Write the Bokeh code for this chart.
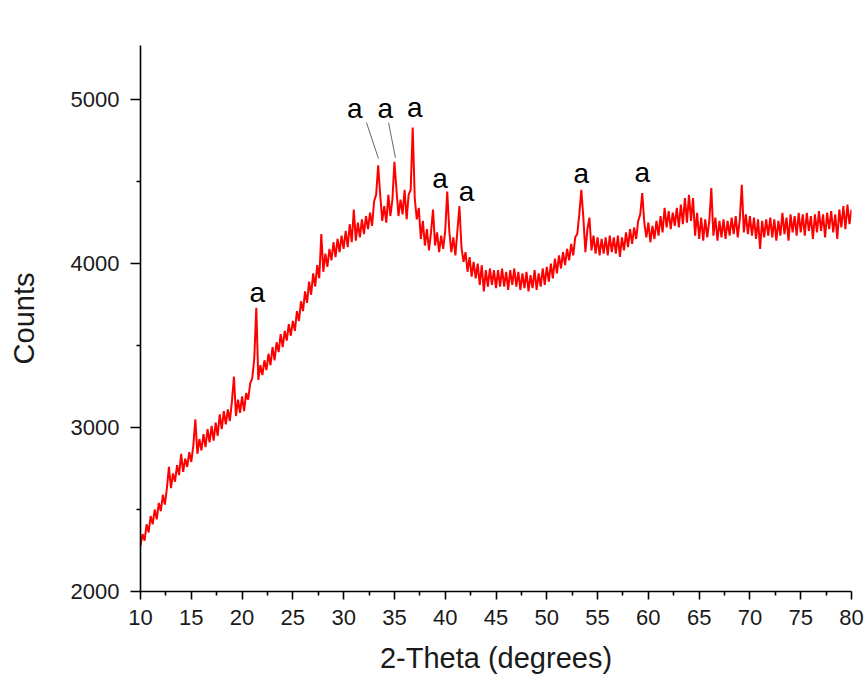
import numpy as np
from bokeh.plotting import figure
from bokeh.models import FixedTicker, Range1d, ColumnDataSource
from bokeh.core.properties import value
from bokeh.embed import file_html
from bokeh.resources import INLINE

# 2-theta sampling grid (degrees), step 0.2 from 10 to 80
two_theta = np.round(np.arange(10.0, 80.0001, 0.2), 1)

counts = [
    # 10.0 - 14.8
    2280, 2350, 2310, 2410, 2360, 2460, 2410, 2500, 2440, 2540,
    2490, 2590, 2530, 2630, 2760, 2630, 2720, 2670, 2770, 2710,
    2840, 2730, 2810, 2760, 2850,
    # 15.0 - 19.8
    2790, 2890, 3050, 2840, 2930, 2860, 2960, 2880, 2990, 2910,
    3010, 2920, 3030, 2950, 3080, 2990, 3100, 3020, 3110, 3040,
    3160, 3310, 3070, 3170, 3090,
    # 20.0 - 24.8
    3190, 3100, 3210, 3170, 3270, 3300, 3420, 3730, 3290, 3380,
    3320, 3410, 3350, 3450, 3380, 3490, 3410, 3520, 3460, 3570,
    3490, 3590, 3530, 3630, 3560,
    # 25.0 - 29.8
    3650, 3590, 3710, 3650, 3770, 3710, 3830, 3760, 3890, 3810,
    3940, 3860, 3990, 3910, 4180, 3950, 4060, 3980, 4090, 4020,
    4130, 4040, 4150, 4070, 4170,
    # 30.0 - 34.8
    4090, 4200, 4100, 4240, 4130, 4330, 4140, 4250, 4160, 4270,
    4180, 4290, 4210, 4310, 4230, 4380, 4420, 4600, 4420, 4260,
    4350, 4250, 4420, 4290, 4390,
    # 35.0 - 39.8
    4620, 4450, 4290, 4390, 4300, 4450, 4270, 4420, 4450, 4830,
    4400, 4270, 4340, 4150, 4260, 4110, 4210, 4080, 4190, 4330,
    4110, 4190, 4070, 4170, 4090,
    # 40.0 - 44.8
    4200, 4440, 4200, 4070, 4160, 4050, 4200, 4350, 4100, 4010,
    4070, 3950, 4040, 3920, 4010, 3910, 4000, 3870, 3990, 3830,
    3960, 3860, 3970, 3870, 3960,
    # 45.0 - 49.8
    3850, 3960, 3860, 3970, 3860, 3950, 3840, 3960, 3870, 3970,
    3860, 3950, 3840, 3940, 3850, 3950, 3830, 3930, 3850, 3960,
    3840, 3940, 3860, 3970, 3870,
    # 50.0 - 54.8
    3980, 3890, 4000, 3910, 4030, 3940, 4050, 3970, 4070, 3990,
    4090, 4020, 4120, 4050, 4160, 4180, 4300, 4450, 4280, 4070,
    4210, 4280, 4080, 4170, 4060,
    # 55.0 - 59.8
    4160, 4050, 4150, 4060, 4160, 4050, 4170, 4070, 4160, 4060,
    4170, 4040, 4160, 4080, 4190, 4100, 4210, 4120, 4220, 4150,
    4260, 4300, 4430, 4250, 4160,
    # 60.0 - 64.8
    4250, 4130, 4230, 4150, 4260, 4170, 4290, 4190, 4340, 4220,
    4320, 4210, 4310, 4230, 4340, 4220, 4360, 4240, 4400, 4250,
    4420, 4260, 4400, 4170, 4310,
    # 65.0 - 69.8
    4150, 4280, 4140, 4270, 4160, 4260, 4460, 4170, 4280, 4140,
    4260, 4160, 4270, 4150, 4260, 4170, 4280, 4180, 4290, 4160,
    4270, 4480, 4190, 4300, 4180,
    # 70.0 - 74.8
    4290, 4170, 4280, 4150, 4270, 4090, 4260, 4160, 4270, 4170,
    4280, 4160, 4270, 4140, 4260, 4170, 4310, 4180, 4280, 4140,
    4300, 4190, 4290, 4170, 4310,
    # 75.0 - 80.0
    4190, 4300, 4170, 4310, 4200, 4290, 4150, 4300, 4190, 4320,
    4200, 4300, 4160, 4310, 4210, 4320, 4190, 4300, 4150, 4330,
    4220, 4350, 4210, 4360, 4240, 4330,
]

# peak labels ("a") positions in data coordinates
label_x = [21.5, 31.1, 34.1, 37.0, 39.5, 42.1, 53.4, 59.4]
label_y = [3826, 4947, 4947, 4953, 4520, 4441, 4551, 4557]
label_text = ["a"] * len(label_x)

# leader lines from labels to peaks
leader_x0 = [32.25, 34.42]
leader_y0 = [4860, 4860]
leader_x1 = [33.43, 35.10]
leader_y1 = [4640, 4645]

x_major = [10, 15, 20, 25, 30, 35, 40, 45, 50, 55, 60, 65, 70, 75, 80]
x_minor = [12.5, 17.5, 22.5, 27.5, 32.5, 37.5, 42.5, 47.5, 52.5, 57.5,
           62.5, 67.5, 72.5, 77.5]
y_major = [2000, 3000, 4000, 5000]
y_minor = [2500, 3500, 4500]

FONT = "Liberation Sans"

p = figure(width=865, height=678, output_backend="svg", toolbar_location=None,
           x_range=Range1d(10, 80), y_range=Range1d(2000, 5330),
           min_border_left=140, min_border_right=14, min_border_top=45,
           min_border_bottom=87)
p.outline_line_color = None
p.xgrid.visible = False
p.ygrid.visible = False
p.background_fill_color = "white"
p.border_fill_color = "white"

p.line(two_theta, counts, line_color="#ff0000", line_width=2.0)

p.segment(x0=leader_x0, y0=leader_y0, x1=leader_x1, y1=leader_y1,
          line_color="#666666", line_width=1)

src = ColumnDataSource(dict(x=label_x, y=label_y, t=label_text))
p.text(x="x", y="y", text="t", source=src, text_font=value(FONT),
       text_font_size="28px", text_color="black", text_align="center",
       text_baseline="middle")

for ax in (p.xaxis[0], p.yaxis[0]):
    ax.axis_line_color = "black"
    ax.axis_line_width = 1.6
    ax.major_tick_line_color = "black"
    ax.major_tick_line_width = 1.6
    ax.minor_tick_line_color = "black"
    ax.minor_tick_line_width = 1.6
    ax.major_tick_in = 0
    ax.minor_tick_in = 0
    ax.minor_tick_out = 4
    ax.major_label_text_font = FONT
    ax.major_label_text_font_size = "22px"
    ax.major_label_text_color = "#1a1a1a"
    ax.axis_label_text_font = FONT
    ax.axis_label_text_font_size = "29px"
    ax.axis_label_text_font_style = "normal"
    ax.axis_label_text_color = "#1a1a1a"

p.xaxis.ticker = FixedTicker(ticks=x_major, minor_ticks=x_minor)
p.yaxis.ticker = FixedTicker(ticks=y_major, minor_ticks=y_minor)
p.xaxis.axis_label = "2-Theta (degrees)"
p.yaxis.axis_label = "Counts"
p.xaxis.major_tick_out = 8
p.yaxis.major_tick_out = 10
p.yaxis.major_label_standoff = 11
p.xaxis.major_label_standoff = 10
p.yaxis.axis_label_standoff = 28
p.xaxis.axis_label_standoff = 14

open("out.html", "w").write(file_html(p, INLINE))
